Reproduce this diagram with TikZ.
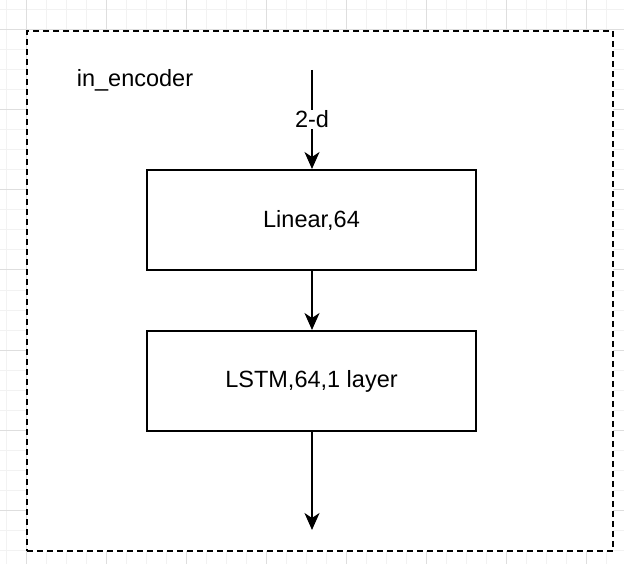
\documentclass[tikz,border=0pt]{standalone}
\usepackage{fontspec}
\setmainfont{Liberation Sans}
\usetikzlibrary{positioning,arrows.meta}
\definecolor{GridMinor}{RGB}{242,242,242}
\definecolor{GridMajor}{RGB}{222,222,222}
\tikzset{>={Stealth[length=17pt,width=15pt,inset=5pt]}}
\tikzset{mylayers/.style={draw,line width=2pt,minimum width=329pt,minimum height=100pt,inner sep=0pt,font=\fontsize{23.5}{28}\selectfont}}
\tikzset{myedges/.style={line width=2pt}}
\tikzset{mylabels/.style={font=\fontsize{23.5}{28}\selectfont,inner sep=1pt}}

\begin{document}
\begin{tikzpicture}[x=1pt,y=-1pt]
    \useasboundingbox (0,0) rectangle (624,564);
    % background grid
    \foreach \x in {6.5,26.5,...,624} {\draw[GridMinor,line width=1pt] (\x,0) -- (\x,564);}
    \foreach \y in {10,30,...,564} {\draw[GridMinor,line width=1pt] (0,\y) -- (624,\y);}
    \foreach \x in {26.5,106.5,...,624} {\draw[GridMajor,line width=1pt] (\x,0) -- (\x,564);}
    \foreach \y in {30,110,...,564} {\draw[GridMajor,line width=1pt] (0,\y) -- (624,\y);}

    \node[draw,fill=white,line width=2pt,dash pattern=on 6pt off 4pt,minimum width=586pt,minimum height=520pt,inner sep=0pt] (encoder) at (320,291) {};
    \node[mylabels] (title) at (135,80) {in\_encoder};

    \node[mylayers] (linear) at (311.5,220) {Linear,64};
    \node[mylayers] (lstm) at (311.5,381) {LSTM,64,1 layer};
    \coordinate (input) at (312,70);
    \coordinate (output) at (312,530);

    \draw[myedges,->] (input) -- node[mylabels,fill=white] {2-d} (input |- linear.north);
    \draw[myedges,->] (input |- linear.south) -- (input |- lstm.north);
    \draw[myedges,->] (input |- lstm.south) -- (output);
\end{tikzpicture}
\end{document}
